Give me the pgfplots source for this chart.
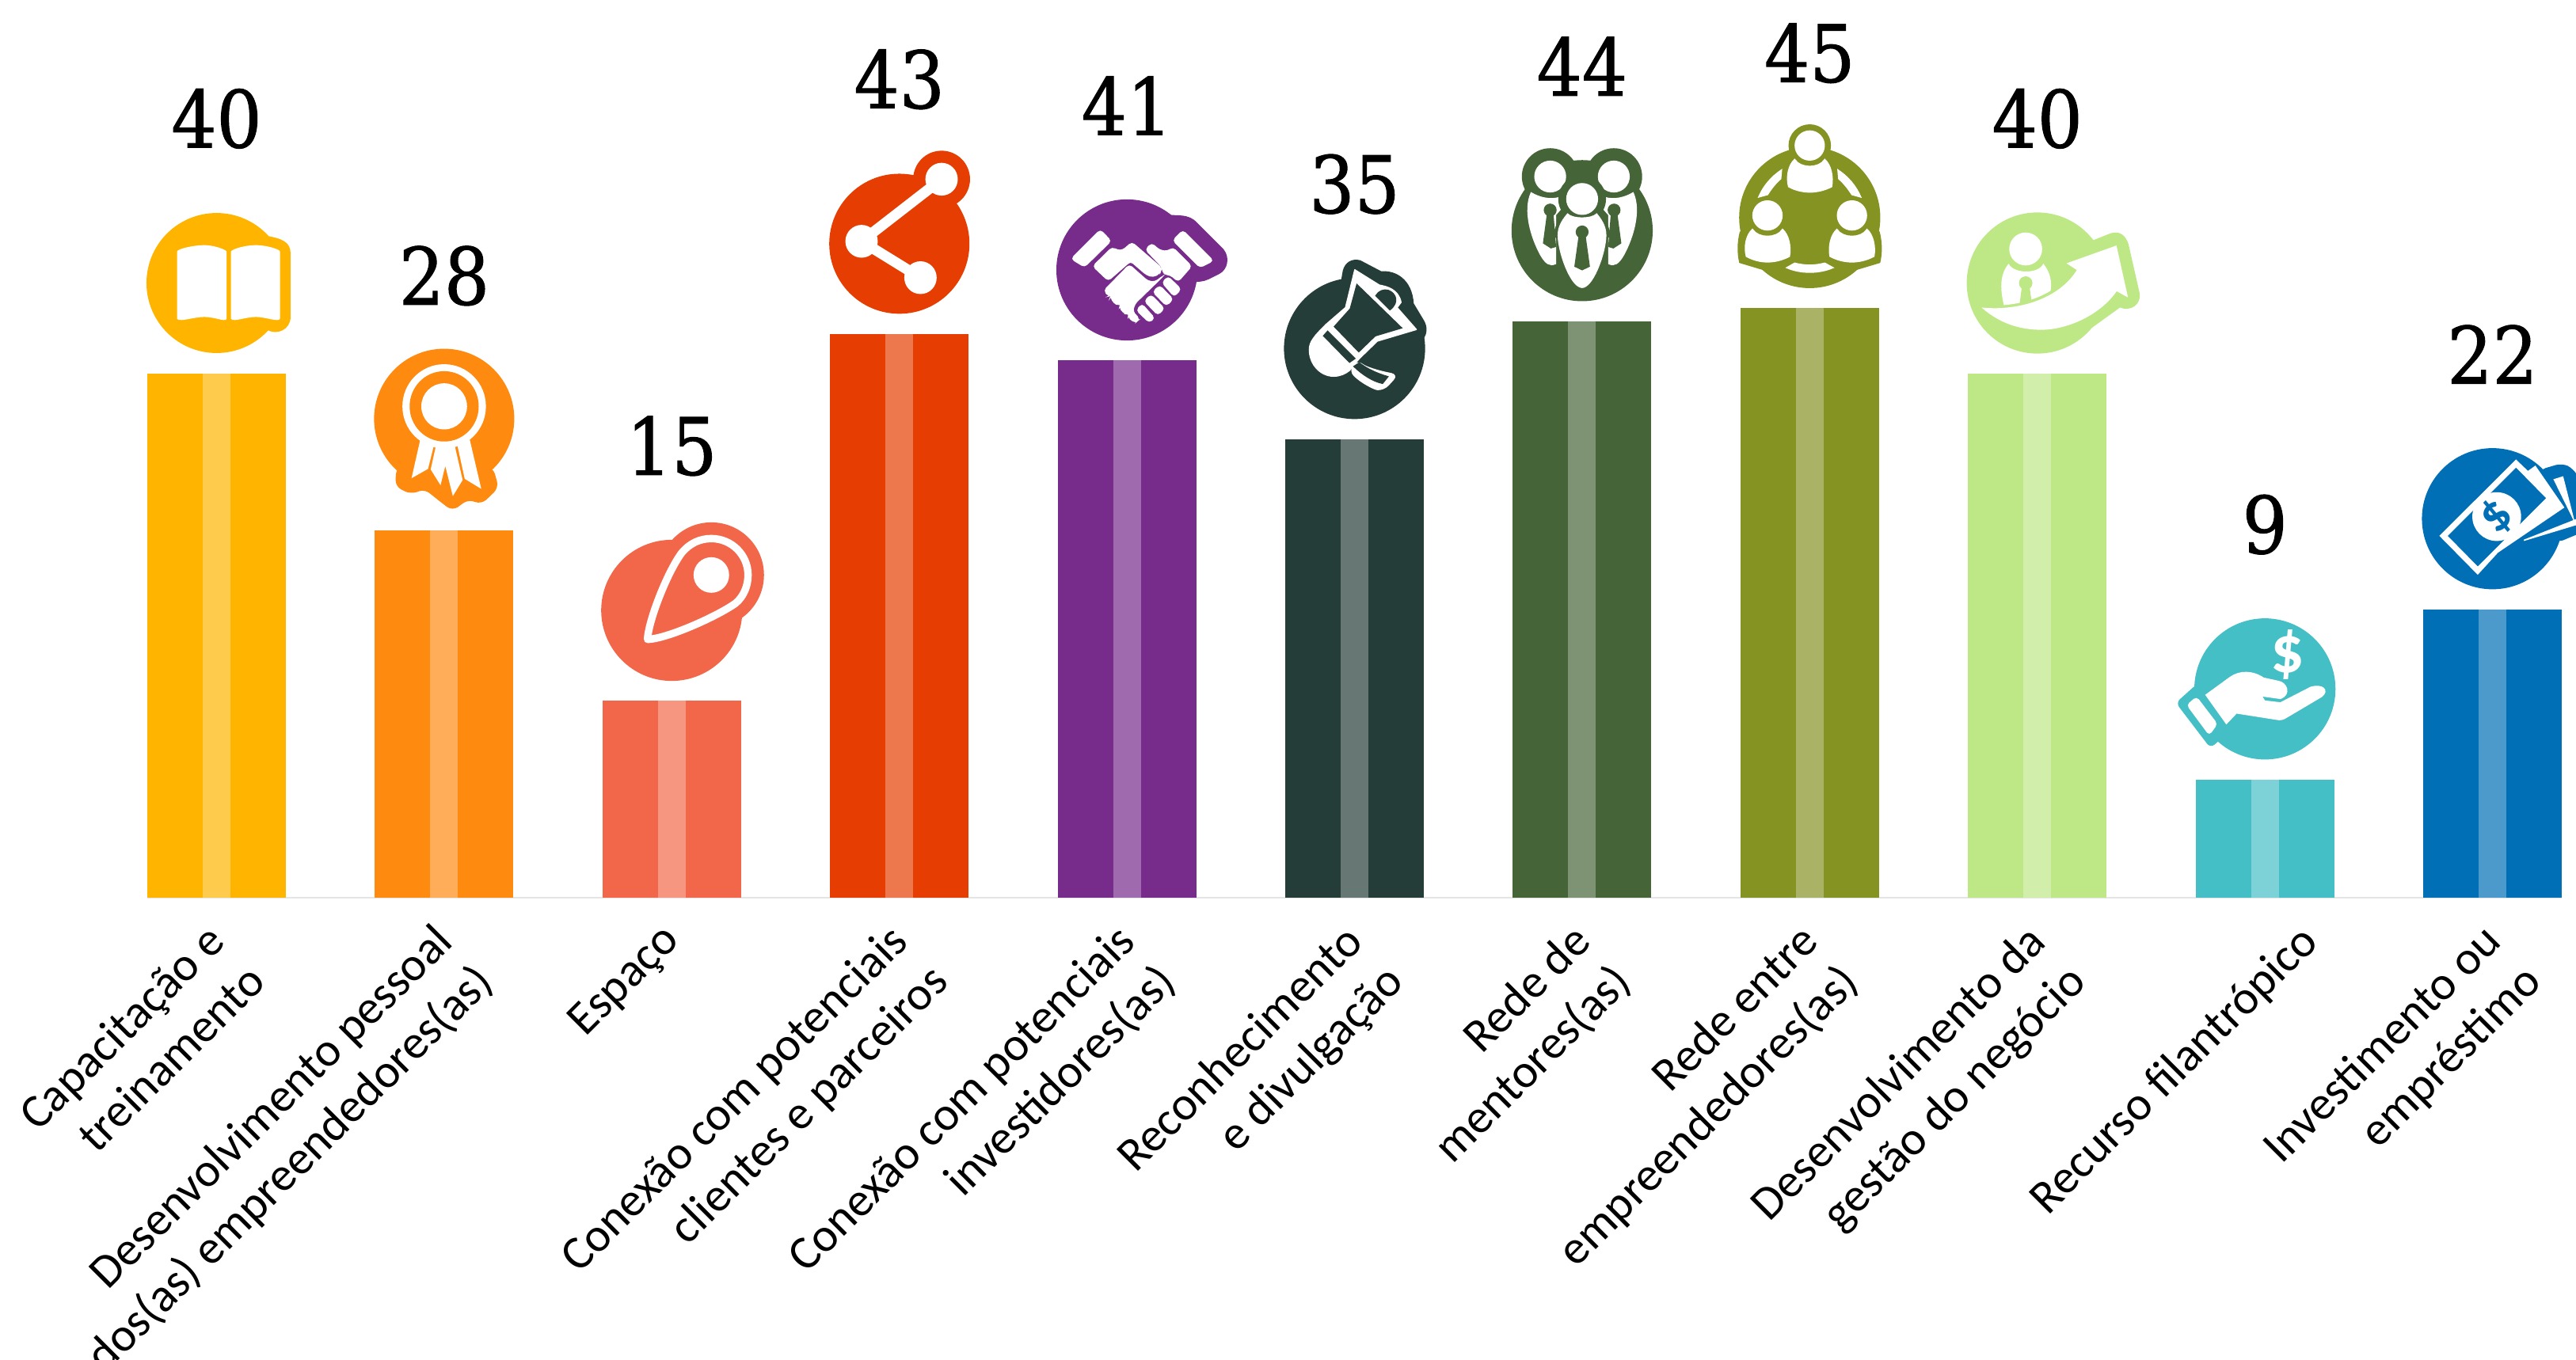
\documentclass[border=0pt]{standalone}
\usepackage{pgfplots}
\pgfplotsset{compat=1.18}
\usepackage{fontspec}
\setmainfont{Carlito}
\newfontfamily\numfont[FakeBold=1]{DejaVu Serif Condensed}
\definecolor{c0}{HTML}{FFB500}
\definecolor{c1}{HTML}{FF8A10}
\definecolor{c2}{HTML}{F2674A}
\definecolor{c3}{HTML}{E63E02}
\definecolor{c4}{HTML}{772C8B}
\definecolor{c5}{HTML}{243D38}
\definecolor{c6}{HTML}{456538}
\definecolor{c7}{HTML}{859323}
\definecolor{c8}{HTML}{BEE886}
\definecolor{c9}{HTML}{44BFC6}
\definecolor{c10}{HTML}{006FB5}
% isotropic icon scope: crop coordinates (3x) with circle centre cx,cy
\newcommand{\isoicon}[4]{%
  \begin{pgfscope}\pgflowlevel{\pgftransformshift{\pgfpoint{-#1*0.083333pt}{#2*0.083333pt+28.6pt}}}%
  \begin{scope}[x=0.083333pt,y=-0.083333pt]
  \fill[#3] (#1,#2) circle[radius=265];
  #4
  \end{scope}\end{pgfscope}}
% anisotropic crop (first zoom)
\newcommand{\anicon}[4]{%
  \begin{pgfscope}\pgflowlevel{\pgftransformshift{\pgfpoint{-#1*0.17544pt}{#2*0.09567pt+28.6pt}}}%
  \begin{scope}[x=0.17544pt,y=-0.09567pt]
  \fill[#3] (#1,#2) ellipse[x radius=125,y radius=229];
  #4
  \end{scope}\end{pgfscope}}
\pgfdeclareplotmark{icbook}{\anicon{177}{698}{c0}{
  \fill[c0] (262,543) .. controls (295,552) and (309,565) .. (309,600) -- (309,810) .. controls (309,850) and (285,870) .. (268,850) -- cycle;
  \fill[white] (107,595) .. controls (107,588) and (135,575) .. (155,575) .. controls (170,575) and (192,588) .. (194,595) -- (194,815) .. controls (192,825) and (175,808) .. (155,808) .. controls (135,808) and (112,825) .. (107,815) -- cycle;
  \fill[white] (204,595) .. controls (206,588) and (228,575) .. (248,575) .. controls (265,575) and (290,588) .. (290,595) -- (290,815) .. controls (288,825) and (265,808) .. (248,808) .. controls (228,808) and (208,825) .. (204,815) -- cycle;
}}
\pgfdeclareplotmark{icribbon}{\begin{pgfscope}\pgflowlevel{\pgftransformyshift{6.75pt}}\anicon{585}{1148}{c1}{
  \fill[c1,rounded corners=2pt] (500,1310) -- (498,1370) -- (525,1395) -- (550,1378) -- (575,1415) -- (600,1450) -- (628,1412) -- (652,1428) -- (682,1375) -- (672,1310) -- cycle;
  \fill[white] (585,1107) ellipse[x radius=74,y radius=137];
  \fill[c1] (585,1107) ellipse[x radius=61,y radius=114];
  \fill[white] (585,1107) ellipse[x radius=40,y radius=74];
  \fill[white] (543,1218) -- (528,1340) -- (555,1312) -- (565,1238) -- (548,1228) -- cycle;
  \fill[white] (571,1240) -- (562,1315) -- (578,1362) -- (587,1295) -- (601,1398) -- (617,1350) -- (603,1238) -- (590,1244) -- cycle;
  \fill[white] (630,1218) -- (650,1375) -- (623,1345) -- (610,1236) -- cycle;
}\end{pgfscope}}
\pgfdeclareplotmark{icpin}{\isoicon{328}{392}{c2}{
  \fill[c2] (478,258) circle[radius=197];
  \draw[white,line width=2.35pt,line join=round] (236,502) .. controls (240,430) and (310,250) .. (365,175) .. controls (395,138) and (435,120) .. (478,120) .. controls (555,120) and (617,182) .. (617,258) .. controls (617,300) and (600,340) .. (570,365) .. controls (500,415) and (310,500) .. (236,502) -- cycle;
  \fill[white] (478,258) circle[radius=65];
}}
\pgfdeclareplotmark{icshare}{\anicon{1407}{568}{c3}{
  \fill[c3] (1483,355) ellipse[x radius=50,y radius=92];
  \draw[white,line width=3.3pt] (1483,355) -- (1339,560) -- (1445,680);
  \fill[white] (1483,355) ellipse[x radius=28,y radius=52];
  \fill[white] (1339,560) ellipse[x radius=28,y radius=52];
  \fill[white] (1445,680) ellipse[x radius=28,y radius=52];
}}
\pgfdeclareplotmark{ichands}{\isoicon{341}{332}{c4}{
  \fill[c4] (500,125) .. controls (530,130) and (575,120) .. (605,155) -- (705,255) .. controls (730,285) and (720,330) .. (690,345) -- (650,365) .. controls (630,375) and (610,375) .. (590,375) -- cycle;
  \fill[white,rounded corners=1pt] (240,181) -- (280,222) -- (180,320) -- (131,290) -- cycle;
  \fill[white,rounded corners=1pt] (553,183) -- (667,297) -- (618,322) -- (516,220) -- cycle;
  \fill[white,rounded corners=1pt] (213,318) -- (285,247) -- (305,258) -- (325,258) -- (360,228) -- (472,325) -- (465,345) -- (440,358) -- (415,350) -- (355,298) -- (270,372) -- cycle;
  \fill[white,rounded corners=1pt] (412,255) -- (435,232) -- (465,258) -- (495,262) -- (515,248) -- (585,318) -- (535,375) -- (505,350) -- (480,348) -- (474,320) -- cycle;
  \fill[white,rounded corners=1pt] (255,410) -- (350,313) -- (420,375) -- (448,378) -- (478,355) -- (370,460) -- (362,490) -- (388,518) -- (372,532) -- (345,510) -- (352,495) -- (335,500) -- (312,474) -- (322,460) -- (300,465) -- (278,436) -- (287,424) -- (272,432) -- cycle;
  \fill[white,rounded corners=1pt] (378,485) -- (398,462) -- (445,515) -- (425,530) -- cycle;
  \fill[white,rounded corners=1pt] (408,450) -- (432,427) -- (482,478) -- (458,502) -- cycle;
  \fill[white,rounded corners=1pt] (440,415) -- (465,392) -- (515,443) -- (490,467) -- cycle;
  \fill[white,rounded corners=1pt] (475,380) -- (497,358) -- (545,405) -- (520,432) -- cycle;
}}
\pgfdeclareplotmark{icmega}{\isoicon{334}{390}{c5}{
  \fill[c5] (285,135) -- (292,95) .. controls (300,65) and (325,50) .. (355,58) -- (435,100) .. controls (490,95) and (550,130) .. (556,220) -- (595,285) .. controls (610,310) and (605,335) .. (595,350) -- (450,300) -- cycle;
  \fill[white,line join=round] (335,92) -- (428,150) .. controls (455,155) and (500,165) .. (510,215) -- (495,235) -- (568,318) -- (420,362) -- (350,430) -- (225,300) -- (300,235) -- cycle;
  \fill[white] (225,300) .. controls (180,345) and (163,365) .. (163,395) .. controls (163,450) and (205,495) .. (255,495) .. controls (280,495) and (300,485) .. (315,473) -- (350,430) -- cycle;
  \fill[white,rounded corners=2pt] (345,435) .. controls (375,460) and (420,475) .. (497,490) -- (445,547) .. controls (410,545) and (360,520) .. (315,475) -- cycle;
  \fill[c5] (343,148) -- (512,312) -- (412,342) -- (350,402) -- (258,307) -- (318,240) -- cycle;
  \fill[c5] (232,325) -- (335,428) -- (315,442) -- (217,342) -- cycle;
  \fill[c5] (352,445) .. controls (385,470) and (420,485) .. (460,497) -- (440,522) .. controls (405,515) and (365,490) .. (332,458) -- cycle;
  \fill[c5] (415,190) .. controls (425,172) and (445,165) .. (462,170) .. controls (490,180) and (505,215) .. (468,243) -- cycle;
}}
\pgfdeclareplotmark{icmentors}{\isoicon{323}{365}{c6}{
  \fill[c6] (202,160) circle[radius=105];
  \fill[c6] (443,160) circle[radius=105];
  \fill[white] (202,160) circle[radius=58];
  \fill[white] (443,160) circle[radius=58];
  \fill[white] (130,222) .. controls (160,240) and (200,250) .. (236,240) -- (244,280) -- (222,305) -- (222,490) .. controls (200,500) and (185,490) .. (165,455) .. controls (130,390) and (100,290) .. cycle;
  \fill[white] (516,222) .. controls (486,240) and (446,250) .. (410,240) -- (402,280) -- (424,305) -- (424,490) .. controls (446,500) and (461,490) .. (481,455) .. controls (516,390) and (546,290) .. cycle;
  \fill[c6] (202,287) circle[radius=22];
  \fill[c6] (192,300) -- (212,300) -- (222,425) -- (205,430) -- (177,412) -- cycle;
  \fill[c6] (444,287) circle[radius=22];
  \fill[c6] (454,300) -- (434,300) -- (424,425) -- (441,430) -- (469,412) -- cycle;
  \fill[c6] (323,245) circle[radius=88];
  \fill[c6] (245,290) -- (400,290) -- (430,380) -- (323,500) -- (215,380) -- cycle;
  \fill[white] (323,245) circle[radius=58];
  \fill[white] (268,302) .. controls (285,322) and (360,322) .. (378,302) .. controls (405,335) and (415,360) .. (412,395) .. controls (405,470) and (360,580) .. (323,580) .. controls (285,580) and (240,470) .. (233,395) .. controls (230,360) and (240,335) .. (268,302) -- cycle;
  \fill[c6] (323,370) circle[radius=22];
  \fill[c6] (312,385) -- (334,385) -- (350,500) -- (323,513) -- (296,500) -- cycle;
}}
\pgfdeclareplotmark{icnetwork}{\isoicon{315}{375}{c7}{
  \fill[c7] (315,102) circle[radius=78];
  \fill[c7] (52,430) .. controls (42,470) and (42,510) .. (50,545) -- (140,572) -- (260,500) -- (180,400) -- cycle;
  \fill[c7] (578,430) .. controls (588,470) and (588,510) .. (580,545) -- (490,572) -- (370,500) -- (450,400) -- cycle;
  \fill[white] (208,195) .. controls (170,220) and (140,255) .. (122,297) -- (155,288) .. controls (170,265) and (185,245) .. (205,228) -- cycle;
  \fill[white] (422,195) .. controls (460,220) and (490,255) .. (508,297) -- (475,288) .. controls (460,265) and (445,245) .. (425,228) -- cycle;
  \fill[white] (228,565) -- (258,548) .. controls (300,558) and (330,558) .. (372,548) -- (403,565) .. controls (350,588) and (280,588) .. (228,565) -- cycle;
  \fill[white] (315,102) circle[radius=55];
  \fill[white] (258,155) .. controls (280,190) and (350,190) .. (372,155) .. controls (395,175) and (405,220) .. (398,258) .. controls (345,285) and (285,285) .. (235,258) .. controls (225,220) and (235,175) .. (258,155) -- cycle;
  \fill[white] (155,367) circle[radius=55];
  \fill[white] (98,420) .. controls (120,455) and (190,455) .. (212,420) .. controls (235,440) and (245,485) .. (238,522) .. controls (185,550) and (125,550) .. (75,522) .. controls (65,485) and (75,440) .. (98,420) -- cycle;
  \fill[white] (475,367) circle[radius=55];
  \fill[white] (418,420) .. controls (440,455) and (510,455) .. (532,420) .. controls (555,440) and (565,485) .. (558,522) .. controls (505,550) and (445,550) .. (392,522) .. controls (385,485) and (395,440) .. (418,420) -- cycle;
}}
\pgfdeclareplotmark{icgrowth}{\isoicon{312}{322}{c8}{
  \fill[c8] (505,170) -- (590,136) .. controls (625,125) and (645,145) .. (655,175) -- (697,360) .. controls (705,400) and (665,430) .. (625,412) -- (510,495) -- cycle;
  \fill[white] (108,418) .. controls (250,430) and (400,380) .. (465,272) -- (428,248) -- (610,183) -- (652,372) -- (612,350) .. controls (550,440) and (430,495) .. (330,497) .. controls (240,497) and (170,470) .. cycle;
  \fill[white] (268,193) circle[radius=60];
  \fill[white] (203,253) .. controls (225,290) and (315,290) .. (335,253) .. controls (360,285) and (365,320) .. (360,350) .. controls (310,380) and (250,398) .. (187,403) .. controls (175,350) and (170,295) .. (203,253) -- cycle;
  \fill[c8] (268,322) circle[radius=23];
  \fill[c8] (256,335) -- (280,335) -- (287,385) -- (248,397) -- cycle;
}}
\pgfdeclareplotmark{ichand}{\isoicon{356}{299}{c9}{
  \fill[c9,rounded corners=1.5pt] (100,282) -- (22,352) -- (150,520) -- (190,485) -- cycle;
  \fill[white,rounded corners=1pt] (62,360) -- (97,331) -- (174,432) -- (145,472) -- cycle;
  \fill[white] (133,322) -- (225,255) .. controls (260,230) and (310,230) .. (350,258) -- (405,270) .. controls (440,275) and (455,320) .. (415,335) -- (342,325) -- (355,345) -- (415,352) -- (530,293) .. controls (575,280) and (600,305) .. (570,328) -- (440,405) .. controls (425,415) and (415,417) .. (400,414) -- (248,390) -- (210,430) -- cycle;
  \node[white,inner sep=0pt] at (442,168) {\fontsize{21}{21}\selectfont\bfseries\$};
}}
\pgfdeclareplotmark{icmoney}{\isoicon{326}{313}{c10}{
  \fill[c10,rounded corners=2pt] (505,130) -- (590,105) -- (630,125) -- (670,190) -- (670,360) -- (570,402) -- cycle;
  \fill[white] (128,378) -- (415,92) -- (460,135) -- (488,115) -- (595,270) -- (345,440) -- (270,522) -- cycle;
  \fill[c10] (160,378) -- (415,123) -- (525,235) -- (270,490) -- cycle;
  \fill[white] (342,305) circle[radius=90];
  \fill[white] (560,165) -- (592,155) -- (632,312) -- cycle;
  \fill[white] (445,395) -- (660,310) -- (660,330) -- cycle;
  \node[c10,inner sep=0pt,rotate=45] at (342,305) {\fontsize{16}{16}\selectfont\bfseries\$};
}}
\newcommand{\catbar}[4]{%
  \addplot[ybar,bar shift=0pt,bar width=43.75pt,fill=#3,draw=none] coordinates {(#1,#2)};
  \addplot[ybar,bar shift=0pt,bar width=8.75pt,fill=#3!70!white,draw=none] coordinates {(#1,#2)};
  \addplot[only marks,mark=#4] coordinates {(#1,#2)};
}
\begin{document}
\begin{tikzpicture}
\path[use as bounding box] (0pt,-145.875pt) rectangle (813.25pt,283.375pt);
\begin{axis}[
  at={(0pt,0pt)},anchor=south west,
  scale only axis,width=813.25pt,height=283.375pt,
  xmin=-0.9516,xmax=10.367,ymin=0,ymax=68.53,
  clip=false,
  axis x line=bottom,axis y line=none,
  x axis line style={draw=none,-},
  xtick={0,1,2,3,4,5,6,7,8,10},
  major tick length=0pt,
  xtick style={draw=none},
  xticklabels={{Capacitação e\\treinamento},{Desenvolvimento pessoal\\dos(as) empreendedores(as)},{Espaço},{Conexão com potenciais\\clientes e parceiros},{Conexão com potenciais\\investidores(as)},{Reconhecimento\\e divulgação},{Rede de\\mentores(as)},{Rede entre\\empreendedores(as)},{Desenvolvimento da\\gestão do negócio},{Investimento ou\\empréstimo}},
  extra x ticks={9},
  extra x tick labels={Recurso filantrópico},
  extra x tick style={xticklabel style={xshift=9.9pt,yshift=-9.9pt}},
  xticklabel style={rotate=45,anchor=north east,align=right,inner sep=0pt,
    font=\fontsize{15}{18}\selectfont,xshift=-7.9pt,yshift=-2.2pt},
  /pgf/number format/assume math mode=true,
]
\addplot[draw=black!10,line width=0.5pt] coordinates {(-0.3045,0) (10.304,0)};
\catbar{0}{40}{c0}{icbook}
\catbar{1}{28}{c1}{icribbon}
\catbar{2}{15}{c2}{icpin}
\catbar{3}{43}{c3}{icshare}
\catbar{4}{41}{c4}{ichands}
\catbar{5}{35}{c5}{icmega}
\catbar{6}{44}{c6}{icmentors}
\catbar{7}{45}{c7}{icnetwork}
\catbar{8}{40}{c8}{icgrowth}
\catbar{9}{9}{c9}{ichand}
\catbar{10}{22}{c10}{icmoney}
\addplot[draw=none,mark=none,nodes near coords,point meta=y,
  every node near coord/.append style={anchor=center,yshift=80.5pt,inner sep=0pt,
    font=\numfont\fontsize{25}{25}\selectfont,text=black}]
  coordinates {(0,40)(1,28)(2,15)(3,43)(4,41)(5,35)(6,44)(7,45)(8,40)(9,9)(10,22)};
\end{axis}
\end{tikzpicture}
\end{document}
